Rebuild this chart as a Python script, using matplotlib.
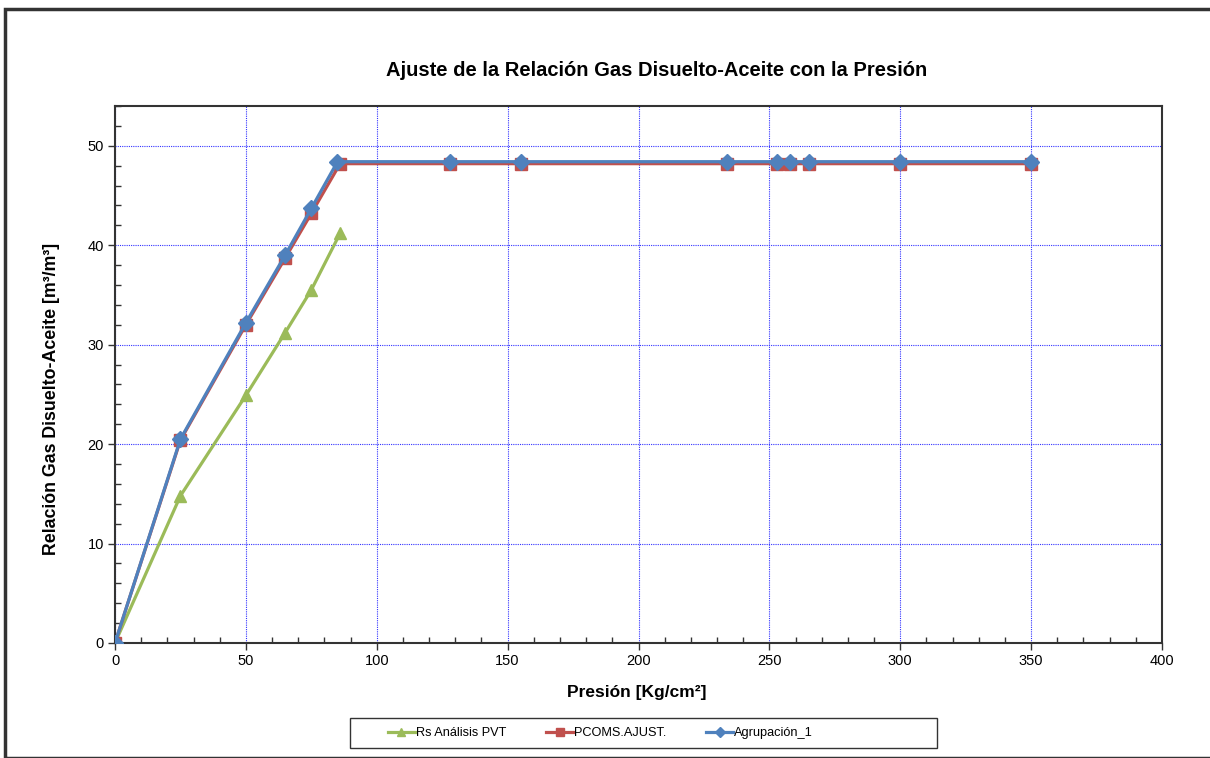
import matplotlib
matplotlib.use("Agg")
import matplotlib.pyplot as plt
from matplotlib.patches import Rectangle
from matplotlib.ticker import MultipleLocator

plt.rcParams['font.family'] = ['Liberation Sans', 'DejaVu Sans']

# Data
pvt_x = [0, 25, 50, 65, 75, 86]
pvt_y = [0, 14.8, 24.9, 31.2, 35.5, 41.2]

adj_x = [0, 25, 50, 65, 75, 86, 128, 155, 234, 253, 258, 265, 300, 350]
adj_y = [0, 20.4, 32.0, 38.7, 43.2, 48.2, 48.2, 48.2, 48.2, 48.2, 48.2, 48.2, 48.2, 48.2]

grp_x = [0, 25, 50, 65, 75, 85, 128, 155, 234, 253, 258, 265, 300, 350]
grp_y = [0, 20.5, 32.2, 39.0, 43.7, 48.4, 48.4, 48.4, 48.4, 48.4, 48.4, 48.4, 48.4, 48.4]

labels = ["Rs Análisis PVT", "PCOMS.AJUST.", "Agrupación_1"]
title = "Ajuste de la Relación Gas Disuelto-Aceite con la Presión"
xlabel = "Presión [Kg/cm²]"
ylabel = "Relación Gas Disuelto-Aceite [m³/m³]"

W, H = 1210, 758
fig = plt.figure(figsize=(W/100, H/100), dpi=100)
ax = fig.add_axes([115/W, 1-643/H, (1162-115)/W, (643-106)/H])

green, red, blue = '#9BBB59', '#C0504D', '#4F81BD'
ax.plot(pvt_x, pvt_y, color=green, lw=2.3, marker='^', ms=9, label=labels[0], zorder=3)
ax.plot(adj_x, adj_y, color=red, lw=2.3, marker='s', ms=8.5, label=labels[1], zorder=4)
ax.plot(grp_x, grp_y, color=blue, lw=2.3, marker='D', ms=8, label=labels[2], zorder=5)

ax.set_xlim(0, 400)
ax.set_ylim(0, 54)
ax.xaxis.set_major_locator(MultipleLocator(50))
ax.xaxis.set_minor_locator(MultipleLocator(10))
ax.yaxis.set_major_locator(MultipleLocator(10))
ax.yaxis.set_minor_locator(MultipleLocator(2))
ax.tick_params(which='major', direction='out', length=5, width=1, color='#333333', labelsize=10.5, pad=3)
ax.tick_params(which='minor', direction='in', length=4, width=1, color='#333333')
ax.grid(True, which='major', color='#3333FF', linestyle=(0, (1, 1)), linewidth=0.8, zorder=0)
for s in ax.spines.values():
    s.set_color('#333333')
    s.set_linewidth(1.5)
ax.set_axisbelow(True)

fig.text(657/W, 1-70/H, title, fontsize=14.5, fontweight='bold', ha='center', va='center')
fig.text(637/W, 1-693/H, xlabel, fontsize=12.5, fontweight='bold', ha='center', va='center')
fig.text(52/W, 1-399/H, ylabel, fontsize=12.8, fontweight='bold', ha='center', va='center',
         rotation=90)

# legend box
fig.patches.append(Rectangle((350/W, 1-748/H), (937-350)/W, 30/H, transform=fig.transFigure,
                             fill=False, edgecolor='#333333', linewidth=1.0))
leg = fig.legend(loc='center left', bbox_to_anchor=(388/W, 1-733/H), ncol=3,
                 fontsize=9.2, frameon=False, borderpad=0, borderaxespad=0,
                 handlelength=2.1, handletextpad=0.1, columnspacing=3.1,
                 markerscale=0.6)

# outer frame
fig.patches.append(Rectangle((5/W, 0), 1.2, 1-9/H, transform=fig.transFigure,
                             fill=False, edgecolor='#333333', linewidth=2.5))

fig.savefig('out.png', dpi=100)
